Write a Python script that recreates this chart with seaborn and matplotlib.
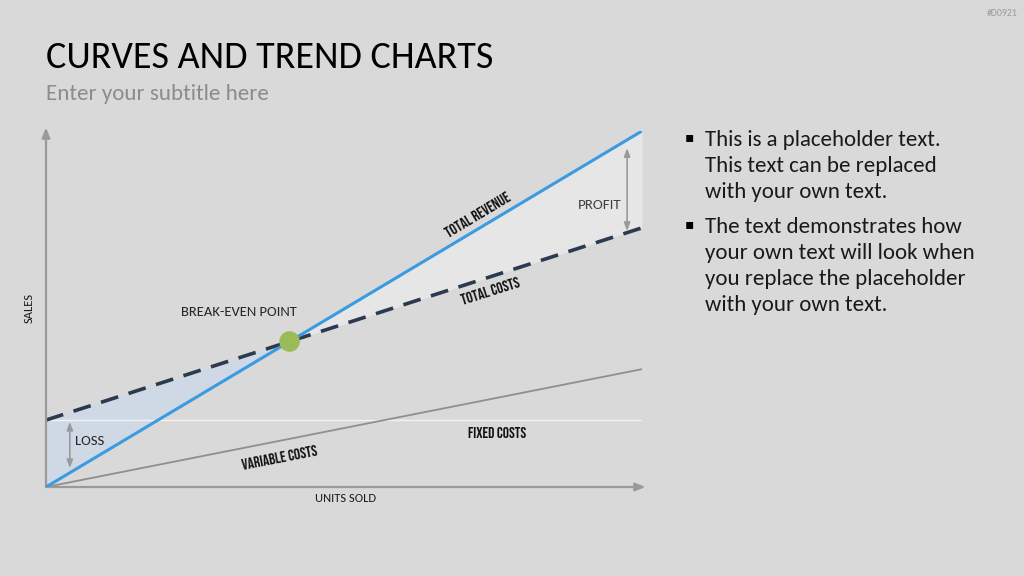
import numpy as np
import pandas as pd
import matplotlib
matplotlib.use("Agg")
import matplotlib.pyplot as plt
import seaborn as sns
from matplotlib import font_manager

# ---- data (units sold vs. sales, arbitrary scale 0-100) ----
units = [0, 100]
total_revenue = [0, 100]
total_costs = [18.8, 72.8]
variable_costs = [0, 33.1]
fixed_costs = [18.8, 18.8]

title = "CURVES AND TREND CHARTS"
subtitle = "Enter your subtitle here"
bullets = [
    "This is a placeholder text.\nThis text can be replaced\nwith your own text.",
    "The text demonstrates how\nyour own text will look when\nyou replace the placeholder\nwith your own text.",
]

sns.set_theme(style="white")
installed = {f.name for f in font_manager.fontManager.ttflist}
main_font = "Carlito" if "Carlito" in installed else "Open Sans"
label_font = "Bebas Neue" if "Bebas Neue" in installed else "DejaVu Sans"
plt.rcParams["font.family"] = [main_font, "DejaVu Sans"]

BG = "#d9d9d9"
W, H = 1024, 576
fig = plt.figure(figsize=(10.24, 5.76), dpi=100, facecolor=BG)

def fx(px):
    return px / W

def fy(py):
    return 1 - py / H

ax = fig.add_axes([fx(46), fy(487), fx(642) - fx(46), fy(131) - fy(487)])
ax.set_facecolor("none")
ax.set_xlim(0, 100)
ax.set_ylim(0, 100)
ax.axis("off")

df = pd.DataFrame({"units": units, "revenue": total_revenue, "costs": total_costs,
                   "variable": variable_costs, "fixed": fixed_costs})

# break-even point from the two lines
r_slope = (total_revenue[1] - total_revenue[0]) / (units[1] - units[0])
c_slope = (total_costs[1] - total_costs[0]) / (units[1] - units[0])
be_x = (total_costs[0] - total_revenue[0]) / (r_slope - c_slope)
be_y = total_revenue[0] + r_slope * be_x

grid = np.linspace(units[0], units[1], 400)
rev_g = np.interp(grid, units, total_revenue)
cost_g = np.interp(grid, units, total_costs)
ax.fill_between(grid, rev_g, cost_g, where=grid <= be_x, color="#cfd9e5", lw=0, zorder=1)
ax.fill_between(grid, rev_g, cost_g, where=grid >= be_x, color="#e6e6e6", lw=0, zorder=1)

sns.lineplot(data=df, x="units", y="fixed", ax=ax, color="#f2f2f2", lw=1.0, zorder=2)
sns.lineplot(data=df, x="units", y="variable", ax=ax, color="#8f8f8f", lw=1.3, zorder=2)
sns.lineplot(data=df, x="units", y="costs", ax=ax, color="#2b3a4e", lw=2.6,
             dashes=False, zorder=3).lines[-1].set_dashes([5, 3])
sns.lineplot(data=df, x="units", y="revenue", ax=ax, color="#3a9be0", lw=2.2, zorder=4)
sns.scatterplot(x=[be_x], y=[be_y], ax=ax, color="#9bbb59", s=220, edgecolor="none", zorder=5)

# axes arrows
arrow_kw = dict(arrowstyle="-|>,head_length=0.5,head_width=0.2", color="#9a9a9a", lw=1.6,
                shrinkA=0, shrinkB=0)
ax.annotate("", xy=(0, 101), xytext=(0, 0), arrowprops=arrow_kw, annotation_clip=False)
ax.annotate("", xy=(100.6, 0), xytext=(0, 0), arrowprops=arrow_kw, annotation_clip=False)

dbl = dict(arrowstyle="<|-|>,head_length=0.4,head_width=0.15", color="#9a9a9a", lw=1.2,
           shrinkA=0, shrinkB=0)
ax.annotate("", xy=(4.0, 18.3), xytext=(4.0, 5.3), arrowprops=dbl)
ax.annotate("", xy=(97.5, 95.2), xytext=(97.5, 71.9), arrowprops=dbl)

# labels
ax.text(4.9, 12.9, "LOSS", fontsize=10.5, color="#262626", ha="left", va="center")
ax.text(96.5, 79.2, "PROFIT", fontsize=10.8, color="#404040", ha="right", va="center")
ax.text(32.4, 49.2, "BREAK-EVEN POINT", fontsize=10.5, color="#262626", ha="center", va="center")
ax.text(50.2, -3.1, "UNITS SOLD", fontsize=9, color="#1a1a1a", ha="center", va="center", clip_on=False)
ax.text(-2.9, 50.3, "SALES", fontsize=9, color="#1a1a1a", ha="center", va="center",
        rotation=90, clip_on=False)

nf = dict(family=[label_font, "DejaVu Sans"], fontsize=11.2, color="#111111",
          ha="center", va="center", rotation_mode="anchor")
ax.text(72.5, 76.7, "TOTAL REVENUE", rotation=31, **nf)
ax.text(74.5, 55.3, "TOTAL COSTS", rotation=17.5, **nf)
ax.text(39.1, 8.4, "VARIABLE COSTS", rotation=11, **nf)
ax.text(75.7, 15.4, "FIXED COSTS", rotation=0, **nf)

# slide texts
fig.text(fx(46), fy(57.5), title, fontsize=27.4, color="#000000", ha="left", va="center")
fig.text(fx(46), fy(94.5), subtitle, fontsize=16.6, color="#8c8c8c", ha="left", va="center")
fig.text(fx(1018), fy(13), "#D0921", fontsize=7, color="#9a9a9a", ha="right", va="center")

ytops = [130, 217]
for txt, yt in zip(bullets, ytops):
    fig.text(fx(685), fy(yt + 7), "\u25aa", fontsize=10, color="#000000", ha="left", va="center",
             family=["DejaVu Sans"])
    fig.text(fx(705), fy(yt), txt, fontsize=16.5, color="#1a1a1a", ha="left", va="top",
             linespacing=1.37)

fig.savefig("out.png", dpi=100, facecolor=BG)
